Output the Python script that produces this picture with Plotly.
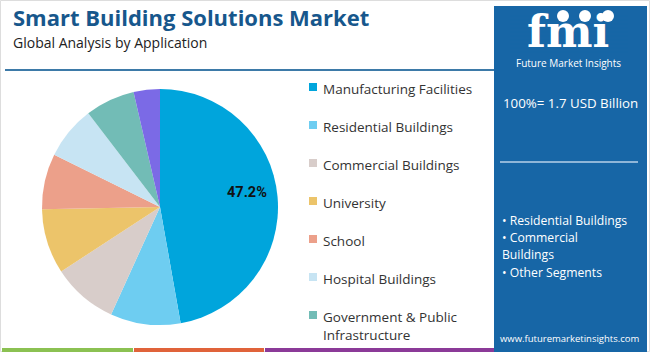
import plotly.graph_objects as go

W, H = 650, 352

categories = ["Manufacturing Facilities", "Residential Buildings", "Commercial Buildings",
              "University", "School", "Hospital Buildings",
              "Government & Public Infrastructure", "Others"]
legend_labels = ["Manufacturing Facilities", "Residential Buildings", "Commercial Buildings",
                 "University", "School", "Hospital Buildings",
                 "Government & Public<br>Infrastructure"]
shares = [47.2, 9.6, 9.0, 8.9, 7.6, 7.3, 6.8, 3.6]
colors = ["#00a5dc", "#6ecdf1", "#d8cdca", "#ecc46a", "#eca08a", "#c7e4f3", "#72bcb6", "#7b6ae6"]
panel_bullets = ["• Residential Buildings", "• Commercial", "Buildings", "• Other Segments"]

PANEL = "#1766a6"
TITLE_C = "#17578c"


def px(x):
    return x / W


def py(y):
    return 1 - y / H


cx, cy, r = 160, 207, 118
fig = go.Figure(go.Pie(
    labels=categories, values=shares, sort=False, direction="clockwise", rotation=0,
    marker=dict(colors=colors, line=dict(width=0)),
    textinfo="none",
    domain=dict(x=[px(cx - r), px(cx + r)], y=[py(cy + r), py(cy - r)]),
    showlegend=False, hoverinfo="label+percent",
))

shapes = []
ann = []

# outer frame
shapes.append(dict(type="rect", xref="paper", yref="paper", x0=px(0.5), x1=px(W - 0.5), y0=py(H - 0.5), y1=py(0.5),
                   line=dict(color="#dddddd", width=1), fillcolor="rgba(0,0,0,0)", layer="below"))
# header rule
shapes.append(dict(type="line", xref="paper", yref="paper", x0=px(5), x1=px(494), y0=py(70), y1=py(70),
                   line=dict(color="#3d7aa8", width=2)))
# bottom colored bars
for x0, x1, c in [(2, 133, "#8bc152"), (134, 264, "#e0633a"), (265, 494, "#8b3a98")]:
    shapes.append(dict(type="rect", xref="paper", yref="paper", x0=px(x0), x1=px(x1), y0=py(352), y1=py(348),
                       line=dict(width=0), fillcolor=c))
# blue panel
shapes.append(dict(type="rect", xref="paper", yref="paper", x0=px(494), x1=px(647), y0=py(352), y1=py(6),
                   line=dict(width=0), fillcolor=PANEL))
# panel divider
shapes.append(dict(type="line", xref="paper", yref="paper", x0=px(500), x1=px(638), y0=py(162), y1=py(162),
                   line=dict(color="#b8d2e8", width=1.5)))

# title
ann.append(dict(text="<b>Smart Building Solutions Market</b>", x=px(11), y=py(17), xanchor="left", yanchor="middle",
                font=dict(family="Open Sans", size=22, color=TITLE_C)))
ann.append(dict(text="Global Analysis by Application", x=px(11), y=py(42), xanchor="left", yanchor="middle",
                font=dict(family="Open Sans", size=14, color="#222222")))

# pie label for the leading slice
ann.append(dict(text=f"<b>{shares[0]}%</b>", x=px(247), y=py(192), xanchor="center", yanchor="middle",
                font=dict(family="Roboto", size=14.5, color="#111111")))

# legend
row_y = [87, 125, 163, 201, 239, 277, 315]
for i, lab in enumerate(legend_labels):
    y = row_y[i]
    shapes.append(dict(type="rect", xref="paper", yref="paper", x0=px(309), x1=px(317), y0=py(y + 4), y1=py(y - 4),
                       line=dict(width=0), fillcolor=colors[i]))
    ann.append(dict(text=lab, x=px(321), y=py(y - 9), xanchor="left", yanchor="top", align="left",
                    font=dict(family="Open Sans", size=13.5, color="#333333")))

# logo
ann.append(dict(text="<b>fmi</b>", x=px(568), y=py(31), xanchor="center", yanchor="middle",
                font=dict(family="DejaVu Serif", size=44, color="white")))
for yy in range(16, 54, 4):
    shapes.append(dict(type="line", xref="paper", yref="paper", x0=px(510), x1=px(628), y0=py(yy), y1=py(yy),
                       line=dict(color=PANEL, width=1)))
for x in [563, 585, 608]:
    shapes.append(dict(type="circle", xref="paper", yref="paper", x0=px(x - 6), x1=px(x + 6), y0=py(22), y1=py(10),
                       line=dict(width=0), fillcolor="white"))
ann.append(dict(text="Future Market Insights", x=px(568), y=py(63), xanchor="center", yanchor="middle",
                font=dict(family="Open Sans", size=10, color="white")))

total = 1.7
ann.append(dict(text=f"100%= {total} USD Billion", x=px(501), y=py(103), xanchor="left", yanchor="middle",
                font=dict(family="Open Sans", size=13.3, color="white")))
for i, (t, y) in enumerate(zip(panel_bullets, [220, 237, 254, 272])):
    ann.append(dict(text=t, x=px(500), y=py(y), xanchor="left", yanchor="middle",
                    font=dict(family="Open Sans", size=12.2, color="white")))
ann.append(dict(text="www.futuremarketinsights.com", x=px(570), y=py(338), xanchor="center", yanchor="middle",
                font=dict(family="Open Sans", size=9.5, color="white")))

for a in ann:
    a.update(xref="paper", yref="paper", showarrow=False)

fig.update_layout(width=W, height=H, margin=dict(l=0, r=0, t=0, b=0),
                  paper_bgcolor="white", plot_bgcolor="white",
                  shapes=shapes, annotations=ann)
fig.write_html("out.html")
